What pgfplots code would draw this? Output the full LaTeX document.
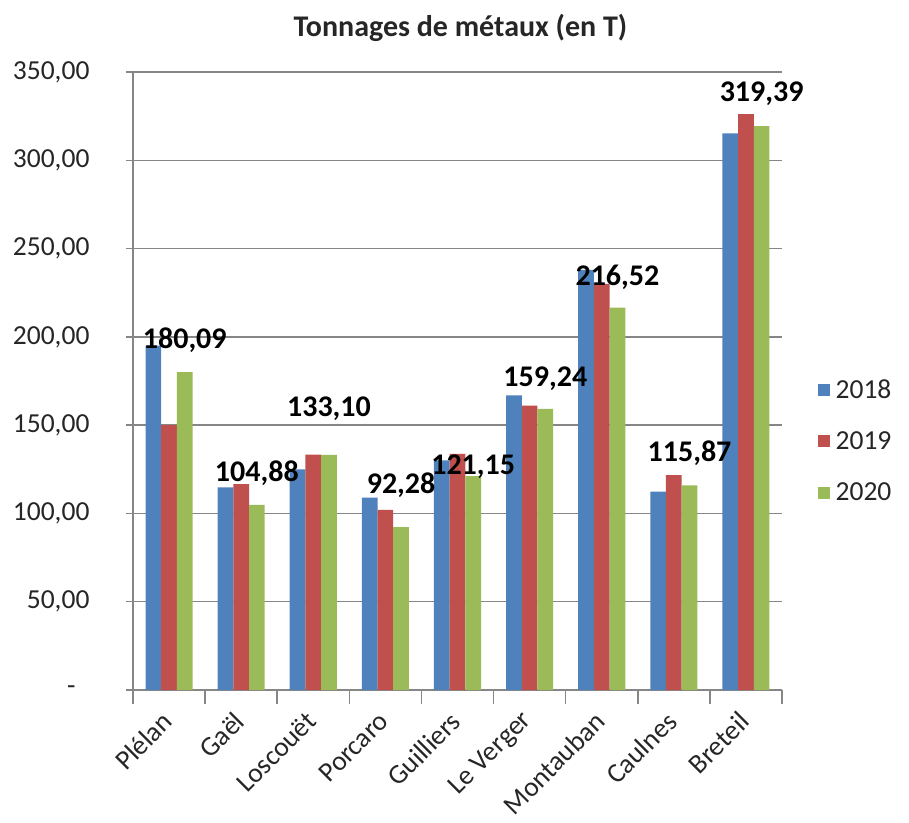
\documentclass[border=0pt]{standalone}
\usepackage{pgfplots}
\pgfplotsset{compat=1.18}
\usepackage{pgfplotstable}
\usepackage{fontspec}
\setmainfont{Carlito}
\definecolor{c18}{HTML}{4F81BD}
\definecolor{c19}{HTML}{C0504D}
\definecolor{c20}{HTML}{9BBB59}
\definecolor{gridc}{HTML}{868686}
\definecolor{txt}{HTML}{262626}

\pgfplotstableread{
x v18 v19 v20 dy
0 195.0 150.0 180.09 32
1 114.7 116.6 104.88 32
2 125.0 133.3 133.10 46
3 108.9 102.0 92.28 42
4 130.0 133.7 121.15 9
5 166.9 161.0 159.24 30
6 238.0 230.0 216.52 30
7 112.4 121.7 115.87 32
8 315.2 326.1 319.39 32
}\data

\begin{document}
\begin{tikzpicture}
\useasboundingbox (-133pt,-132pt) rectangle (776pt,690pt);
\begin{axis}[
  at={(0,0)}, anchor=south west,
  scale only axis, width=649pt, height=618pt,
  font=\fontsize{26}{30}\selectfont,
  ymin=0, ymax=350, ytick={0,50,...,350},
  yticklabels={{-\hphantom{0}},{50,00},{100,00},{150,00},{200,00},{250,00},{300,00},{350,00}},
  xmin=-0.5, xmax=8.5,
  xtick={0,...,8},
  xticklabels={Plélan,Gaël,Loscouët,Porcaro,Guilliers,Le Verger,Montauban,Caulnes,Breteil},
  minor xtick={-0.5,0.5,...,8.5},
  major x tick style={draw=none},
  minor x tick style={draw=gridc, line width=1.5pt},
  major y tick style={draw=gridc, line width=1.5pt},
  tick align=center,
  major tick length=14pt, minor tick length=14pt,
  axis x line*=bottom, axis y line*=left,
  axis line style={draw=gridc, line width=1.8pt, -},
  ymajorgrids, grid style={draw=gridc, line width=1.5pt},
  ybar=0pt, bar width=15.7pt,
  yticklabel style={text=txt, anchor=east, xshift=-33pt, font=\fontsize{27.5}{30}\selectfont},
  xticklabel style={text=txt, rotate=45, anchor=east, inner sep=2pt, yshift=-8pt, xshift=-8pt, font=\fontsize{27.5}{30}\selectfont},
  title={Tonnages de métaux (en T)},
  title style={font=\bfseries\fontsize{30}{36}\selectfont, text=txt, anchor=center, at={(0.5,1)}, yshift=38pt, xshift=3pt},
  legend style={at={(1.05,0.403)}, anchor=west, draw=none, fill=none,
    font=\fontsize{27.5}{30}\selectfont, text=txt, row sep=28pt,
    /tikz/every odd column/.append style={column sep=4pt}},
  legend cell align=left,
]
\addplot[fill=c18, draw=none, legend image code/.code={\fill[c18] (0pt,-6pt) rectangle (12pt,6pt);}] table[x=x, y=v18] {\data};
\addlegendentry{2018}
\addplot[fill=c19, draw=none, legend image code/.code={\fill[c19] (0pt,-6pt) rectangle (12pt,6pt);}] table[x=x, y=v19] {\data};
\addlegendentry{2019}
\addplot[fill=c20, draw=none, legend image code/.code={\fill[c20] (0pt,-6pt) rectangle (12pt,6pt);},
  point meta=y,
  visualization depends on={\thisrow{dy} \as \dy},
  nodes near coords={\pgfmathprintnumber[fixed, fixed zerofill, precision=2, use comma, assume math mode=true]{\pgfplotspointmeta}},
  every node near coord/.append style={font=\bfseries\fontsize{30}{36}\selectfont, text=black, anchor=center, yshift=\dy pt}
  ] table[x=x, y=v20] {\data};
\addlegendentry{2020}
\end{axis}
\end{tikzpicture}
\end{document}
